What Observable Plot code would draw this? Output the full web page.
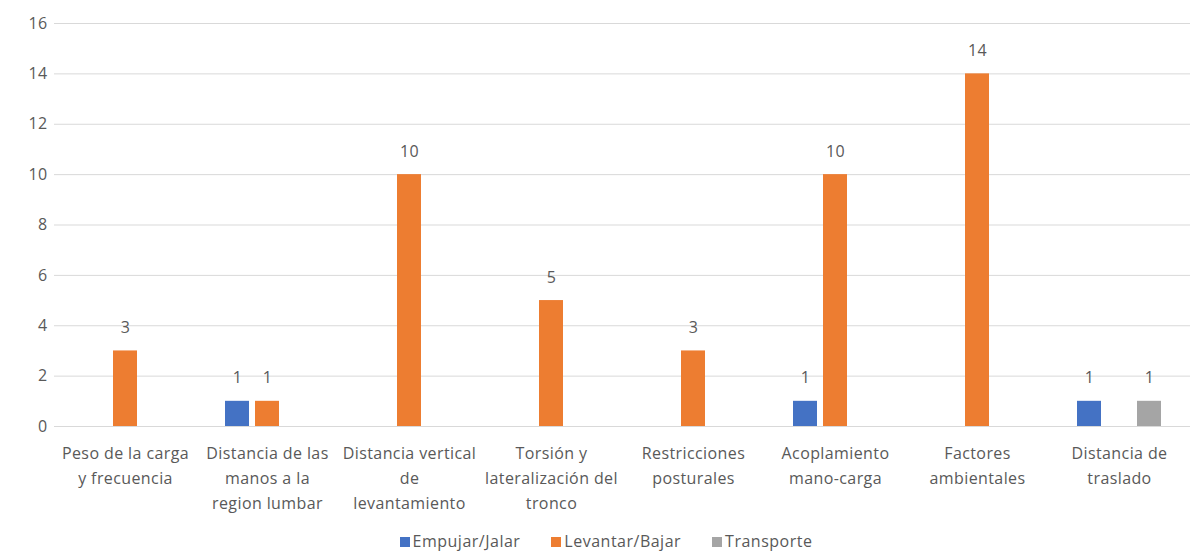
<!DOCTYPE html>
<html>
<head>
<meta charset="utf-8">
<script src="https://cdn.jsdelivr.net/npm/d3@7"></script>
<script src="https://cdn.jsdelivr.net/npm/@observablehq/plot@0.6"></script>
<style>
  html, body { margin: 0; padding: 0; background: #fff; }
  #chart { width: 1196px; }
  #chart svg { letter-spacing: 0.4px; }
  .legend { display: flex; justify-content: center; gap: 31px; margin-left: 16px; height: 32px; align-items: center;
            font-family: "Open Sans", sans-serif; font-size: 16px; letter-spacing: 0.5px; color: #595959; }
  .legend span.sw { display: inline-block; width: 10px; height: 10px; margin-right: 3px; vertical-align: middle; position: relative; top: -1px; }
</style>
</head>
<body>
<div id="chart"></div>
<script>
// Risk factors (category axis, wrapped as displayed)
const categories = [
  "Peso de la carga\ny frecuencia",
  "Distancia de las\nmanos a la\nregion lumbar",
  "Distancia vertical\nde\nlevantamiento",
  "Torsión y\nlateralización del\ntronco",
  "Restricciones\nposturales",
  "Acoplamiento\nmano-carga",
  "Factores\nambientales",
  "Distancia de\ntraslado"
];

// Task types (series)
const series = ["Empujar/Jalar", "Levantar/Bajar", "Transporte"];
const seriesColors = ["#4472C4", "#ED7D31", "#A5A5A5"];

// Counts per category for each task type (null = no bar)
const empujarJalar  = [null, 1, null, null, null, 1, null, 1];
const levantarBajar = [3, 1, 10, 5, 3, 10, 14, null];
const transporte    = [null, null, null, null, null, null, null, 1];

const yTicks = [0, 2, 4, 6, 8, 10, 12, 14, 16];

const seriesValues = [empujarJalar, levantarBajar, transporte];
const rows = [];
seriesValues.forEach((vals, si) => {
  vals.forEach((v, ci) => {
    if (v != null) rows.push({category: categories[ci], serie: series[si], value: v});
  });
});

const font = "'Open Sans', sans-serif";
const textColor = "#595959";
const fs = 16;

const chart = Plot.plot({
  width: 1196,
  height: 525,
  marginLeft: 50,
  marginRight: 3,
  marginTop: 23,
  marginBottom: 99,
  style: {fontFamily: font, fontSize: fs + "px", color: textColor, background: "#fff"},
  fx: {domain: categories, padding: 0, label: null},
  x: {domain: series, paddingInner: 0.19, paddingOuter: 0.9, axis: null},
  y: {domain: [0, 16], ticks: yTicks, label: null},
  color: {domain: series, range: seriesColors},
  marks: [
    Plot.gridY(yTicks, {stroke: "#d9d9d9", strokeOpacity: 1, strokeWidth: 1}),
    Plot.axisY(yTicks, {tickSize: 0, tickPadding: 7, fill: textColor, fontSize: fs, label: null}),
    Plot.axisFx({anchor: "bottom", tickSize: 0, tickPadding: 15, lineHeight: 1.56, fill: textColor, fontSize: fs, label: null}),
    Plot.barY(rows, {fx: "category", x: "serie", y: "value", fill: "serie"}),
    Plot.text(rows, {fx: "category", x: "serie", y: "value", text: d => String(d.value),
                     dy: -23, fill: textColor, fontSize: fs})
  ]
});

document.getElementById("chart").appendChild(chart);

// Legend below the chart
const legend = document.createElement("div");
legend.className = "legend";
series.forEach((s, i) => {
  const item = document.createElement("div");
  const sw = document.createElement("span");
  sw.className = "sw";
  sw.style.background = seriesColors[i];
  item.appendChild(sw);
  item.appendChild(document.createTextNode(s));
  legend.appendChild(item);
});
document.getElementById("chart").appendChild(legend);
</script>
</body>
</html>
